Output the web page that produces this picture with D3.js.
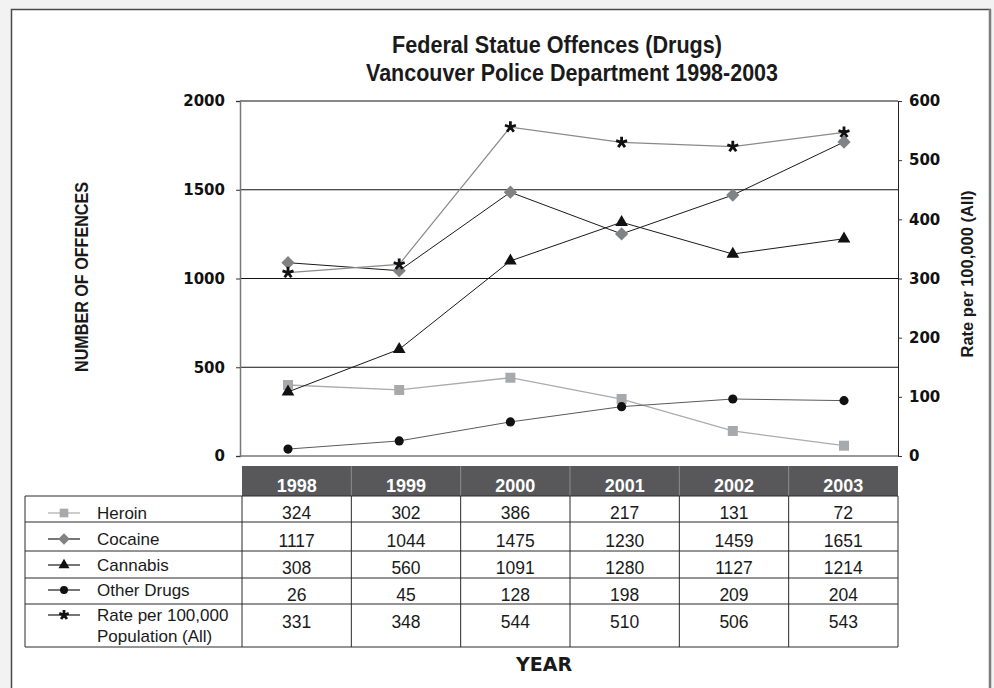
<!DOCTYPE html>
<html>
<head>
<meta charset="utf-8">
<script src="https://cdn.jsdelivr.net/npm/d3@7"></script>
<style>
  html, body { margin: 0; padding: 0; background: #f2f2f2; }
  svg { display: block; }
</style>
</head>
<body>
<div id="chart"></div>
<script>
// Categories
const years = ['1998', '1999', '2000', '2001', '2002', '2003'];

// Values as plotted
const heroinPlot = [400, 372, 441, 321, 141, 58];
const cocainePlot = [1089, 1044, 1486, 1251, 1470, 1769];
const cannabisPlot = [361, 601, 1099, 1317, 1138, 1224];
const otherPlot = [39, 85, 192, 278, 321, 312];
const ratePlot = [310, 324, 556, 530, 523, 547];   // right axis

// Values printed in the table
const heroinTable = [324, 302, 386, 217, 131, 72];
const cocaineTable = [1117, 1044, 1475, 1230, 1459, 1651];
const cannabisTable = [308, 560, 1091, 1280, 1127, 1214];
const otherTable = [26, 45, 128, 198, 209, 204];
const rateTable = [331, 348, 544, 510, 506, 543];

// Axis ticks
const leftTicks = [0, 500, 1000, 1500, 2000];
const rightTicks = [0, 100, 200, 300, 400, 500, 600];

const W = 994, H = 688;
const narrow = '"Liberation Sans", Arial, sans-serif';
const heavy = '"DejaVu Sans", sans-serif';
const plain = '"Liberation Sans", Arial, sans-serif';

const svg = d3.select('#chart').append('svg')
  .attr('width', W).attr('height', H);

// page + panel
svg.append('rect').attr('width', W).attr('height', H).attr('fill', '#f2f2f2');
svg.append('rect').attr('x', 11).attr('y', 9).attr('width', 979).attr('height', 700)
  .attr('fill', '#fff');
svg.append('path').attr('d', 'M11.5,700V9.5H991')
  .attr('fill', 'none').attr('stroke', '#4a4a4a').attr('stroke-width', 1.5);
svg.append('line').attr('x1', 990).attr('x2', 990).attr('y1', 9).attr('y2', H)
  .attr('stroke', '#7d7d7d').attr('stroke-width', 2.5);

// title
const titles = [
  { t: 'Federal Statue Offences (Drugs)', x: 557, y: 53, len: 330 },
  { t: 'Vancouver Police Department 1998-2003', x: 572, y: 81, len: 412 }
];
svg.selectAll('.title').data(titles).join('text')
  .attr('class', 'title')
  .attr('x', d => d.x).attr('y', d => d.y)
  .attr('text-anchor', 'middle')
  .attr('textLength', d => d.len).attr('lengthAdjust', 'spacingAndGlyphs')
  .attr('font-family', narrow).attr('font-weight', 'bold').attr('font-size', 24.5)
  .attr('fill', '#1a1a1a')
  .text(d => d.t);

// scales
const plotL = 240, plotR = 898, plotT = 101, plotB = 456;
const y = d3.scaleLinear().domain([0, 2000]).range([plotB, plotT]);
const yR = d3.scaleLinear().domain([0, 600]).range([plotB, plotT]);
const x = d3.scalePoint().domain(years).range([288, 844]);
const col = d3.scaleBand().domain(years).range([242, 898]);

// gridlines
svg.append('g').selectAll('line').data(leftTicks.filter(d => d > 0)).join('line')
  .attr('x1', plotL).attr('x2', plotR)
  .attr('y1', d => y(d)).attr('y2', d => y(d))
  .attr('stroke', '#111').attr('stroke-width', 1);

// left axis
const gL = svg.append('g').attr('transform', `translate(${plotL},0)`)
  .call(d3.axisLeft(y).tickValues(leftTicks).tickFormat(d3.format('d'))
    .tickSize(4).tickPadding(11));
gL.select('.domain').attr('stroke', '#777').attr('stroke-width', 1.5);
gL.selectAll('.tick line').attr('stroke', '#333');
gL.selectAll('.tick text').attr('font-family', heavy).attr('font-weight', 'bold')
  .attr('font-size', 15).attr('fill', '#111');

// baseline
svg.append('line').attr('x1', plotL).attr('x2', plotR)
  .attr('y1', plotB).attr('y2', plotB)
  .attr('stroke', '#777').attr('stroke-width', 1.5);

// right axis
const gR = svg.append('g').attr('transform', `translate(${plotR},0)`)
  .call(d3.axisRight(yR).tickValues(rightTicks).tickFormat(d3.format('d'))
    .tickSize(4).tickPadding(7));
gR.select('.domain').attr('stroke', '#222').attr('stroke-width', 1);
gR.selectAll('.tick line').attr('stroke', '#333');
gR.selectAll('.tick text').attr('font-family', heavy).attr('font-weight', 'bold')
  .attr('font-size', 15).attr('fill', '#111');

// axis titles
svg.append('text')
  .attr('transform', 'translate(88,277) rotate(-90)')
  .attr('text-anchor', 'middle')
  .attr('textLength', 190).attr('lengthAdjust', 'spacingAndGlyphs')
  .attr('font-family', narrow).attr('font-weight', 'bold').attr('font-size', 18)
  .attr('fill', '#1a1a1a')
  .text('NUMBER OF OFFENCES');
svg.append('text')
  .attr('transform', 'translate(973,274) rotate(-90)')
  .attr('text-anchor', 'middle')
  .attr('textLength', 167).attr('lengthAdjust', 'spacingAndGlyphs')
  .attr('font-family', narrow).attr('font-weight', 'bold').attr('font-size', 17)
  .attr('fill', '#1a1a1a')
  .text('Rate per 100,000 (All)');

// five-armed asterisk
const asterisk = {
  draw(ctx, size) {
    const r = Math.sqrt(size) * 0.55;
    for (let k = 0; k < 5; k++) {
      const a = -Math.PI / 2 + k * 2 * Math.PI / 5;
      ctx.moveTo(0, 0);
      ctx.lineTo(r * Math.cos(a), r * Math.sin(a));
    }
  }
};

const series = [
  { name: 'Heroin', plot: heroinPlot, table: heroinTable, scale: y,
    line: '#ababab', lineW: 1.3, sym: d3.symbolSquare, size: 100, fill: '#a7a9ac', rot: 0 },
  { name: 'Cocaine', plot: cocainePlot, table: cocaineTable, scale: y,
    line: '#1a1a1a', lineW: 1, sym: d3.symbolSquare, size: 88, fill: '#808285', rot: 45 },
  { name: 'Cannabis', plot: cannabisPlot, table: cannabisTable, scale: y,
    line: '#1a1a1a', lineW: 1, sym: d3.symbolTriangle, size: 70, fill: '#111', rot: 0 },
  { name: 'Other Drugs', plot: otherPlot, table: otherTable, scale: y,
    line: '#5a5a5a', lineW: 1, sym: d3.symbolCircle, size: 66, fill: '#111', rot: 0 },
  { name: 'Rate per 100,000|Population (All)', plot: ratePlot, table: rateTable, scale: yR,
    line: '#8a8a8a', lineW: 1.2, sym: asterisk, size: 110, fill: 'none', stroke: '#111', rot: 0 }
];

function drawMarker(sel, s) {
  sel.attr('d', d3.symbol(s.sym, s.size))
    .attr('fill', s.fill)
    .attr('stroke', s.stroke || 'none')
    .attr('stroke-width', s.stroke ? 2.8 : 0)
    .attr('stroke-linecap', 'butt');
}

// lines and markers
const plot = svg.append('g');
series.forEach(s => {
  const pts = years.map((yr, i) => [x(yr), s.scale(s.plot[i])]);
  plot.append('path')
    .attr('d', d3.line()(pts))
    .attr('fill', 'none').attr('stroke', s.line).attr('stroke-width', s.lineW);
});
series.forEach(s => {
  plot.append('g').selectAll('path').data(s.plot).join('path')
    .attr('transform', (d, i) => `translate(${x(years[i])},${s.scale(d)}) rotate(${s.rot})`)
    .call(drawMarker, s);
});

// table
const rowEdges = [496, 522, 551, 578, 604, 647];
const valueY = [513, 541, 568, 595, 622];
const labelY = [[513], [539], [565], [590], [615, 636]];
const tableLeft = 25;

svg.append('rect').attr('x', 242).attr('y', 466).attr('width', 656).attr('height', 30)
  .attr('fill', '#58585a');
svg.append('g').selectAll('line').data(years.slice(1)).join('line')
  .attr('x1', d => col(d)).attr('x2', d => col(d))
  .attr('y1', 466).attr('y2', 496)
  .attr('stroke', '#8c8c8c').attr('stroke-width', 1);
svg.append('g').selectAll('text').data(years).join('text')
  .attr('x', d => col(d) + col.bandwidth() / 2).attr('y', 492)
  .attr('text-anchor', 'middle')
  .attr('font-family', plain).attr('font-weight', 'bold').attr('font-size', 18)
  .attr('fill', '#fff')
  .text(d => d);

const tg = svg.append('g').attr('stroke', '#2a2a2a').attr('stroke-width', 1);
tg.selectAll('.h').data(rowEdges).join('line').attr('class', 'h')
  .attr('x1', tableLeft).attr('x2', 898)
  .attr('y1', d => d).attr('y2', d => d);
tg.selectAll('.v').data([tableLeft, ...years.map(col), 898]).join('line').attr('class', 'v')
  .attr('x1', d => d).attr('x2', d => d)
  .attr('y1', rowEdges[0]).attr('y2', rowEdges[rowEdges.length - 1]);

series.forEach((s, r) => {
  // values
  svg.append('g').selectAll('text').data(s.table).join('text')
    .attr('x', (d, i) => col(years[i]) + col.bandwidth() / 2)
    .attr('y', valueY[r])
    .attr('dy', '0.35em')
    .attr('text-anchor', 'middle')
    .attr('font-family', plain).attr('font-size', 17.5).attr('fill', '#1a1a1a')
    .text(d => d);
  // legend label
  const lines = s.name.split('|');
  svg.append('g').selectAll('text').data(lines).join('text')
    .attr('x', 97).attr('y', (d, i) => labelY[r][i])
    .attr('dy', '0.35em')
    .attr('font-family', plain).attr('font-size', 17).attr('fill', '#1a1a1a')
    .text(d => d);
  // legend key
  const ky = labelY[r][0];
  svg.append('line').attr('x1', 48).attr('x2', 80).attr('y1', ky).attr('y2', ky)
    .attr('stroke', r === 0 ? '#ababab' : '#1a1a1a').attr('stroke-width', 1.2);
  svg.append('path')
    .attr('transform', `translate(64,${ky}) rotate(${s.rot})`)
    .call(drawMarker, { ...s, size: s.size * 0.75 });
});

// x axis title
svg.append('text')
  .attr('x', 544).attr('y', 671)
  .attr('text-anchor', 'middle')
  .attr('font-family', heavy).attr('font-weight', 'bold').attr('font-size', 19)
  .attr('fill', '#1a1a1a')
  .text('YEAR');
</script>
</body>
</html>
